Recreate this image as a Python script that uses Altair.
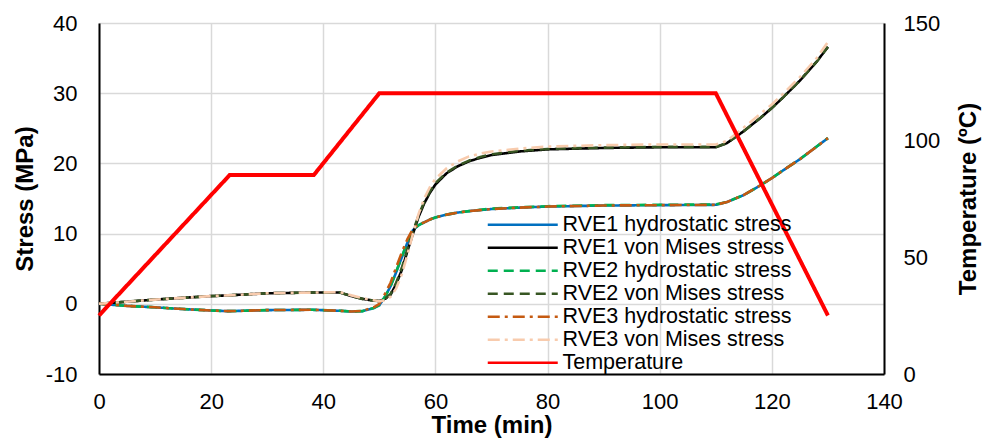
import altair as alt
import pandas as pd

# ---- data ----
time_min = [0, 5, 10, 15, 20, 23, 30, 38, 43, 45, 47, 49, 50, 51, 52, 53, 54, 55, 56, 57,
            58, 59, 60, 62, 64, 66, 68, 70, 75, 80, 90, 100, 110, 112, 115, 118, 120, 122,
            125, 128, 130]

rve1_hydro = [0, -0.3, -0.5, -0.75, -0.95, -1.05, -0.9, -0.85, -1.0, -1.1, -1.05, -0.6, -0.2,
              1.0, 2.5, 4.5, 6.6, 8.7, 10.5, 11.2, 11.6, 12.0, 12.3, 12.7, 13.0, 13.2, 13.35,
              13.5, 13.7, 13.85, 14.0, 14.05, 14.1, 14.5, 15.5, 16.9, 17.9, 19.0, 20.6, 22.4, 23.6]
rve2_hydro = [0, -0.3, -0.5, -0.75, -0.95, -1.05, -0.9, -0.85, -1.0, -1.1, -1.05, -0.6, -0.2,
              1.0, 2.5, 4.6, 6.7, 8.8, 10.5, 11.2, 11.6, 12.0, 12.3, 12.7, 13.0, 13.2, 13.4,
              13.55, 13.75, 13.9, 14.05, 14.1, 14.15, 14.5, 15.5, 16.9, 17.9, 19.0, 20.6, 22.4, 23.6]
rve3_hydro = [0, -0.3, -0.5, -0.75, -0.95, -1.05, -0.9, -0.85, -1.0, -1.1, -1.0, -0.5, 0.0,
              1.4, 3.0, 5.2, 7.3, 9.2, 10.7, 11.3, 11.6, 12.0, 12.3, 12.7, 13.0, 13.2, 13.35,
              13.5, 13.7, 13.85, 14.0, 14.05, 14.1, 14.5, 15.5, 16.9, 17.9, 19.0, 20.6, 22.4, 23.6]
rve1_vm = [0, 0.3, 0.6, 0.85, 1.1, 1.2, 1.5, 1.6, 1.6, 1.1, 0.7, 0.45, 0.4, 0.7, 1.3, 2.8, 4.8,
           7.5, 10.0, 12.4, 14.3, 15.8, 17.0, 18.6, 19.6, 20.3, 20.8, 21.2, 21.7, 22.0, 22.2,
           22.3, 22.3, 22.9, 24.6, 26.5, 27.9, 29.4, 31.8, 34.5, 36.6]
rve2_vm = [0, 0.3, 0.6, 0.85, 1.1, 1.2, 1.5, 1.6, 1.6, 1.1, 0.7, 0.45, 0.4, 0.7, 1.4, 3.0, 5.1,
           7.8, 10.3, 12.6, 14.5, 16.0, 17.2, 18.7, 19.7, 20.4, 20.9, 21.3, 21.8, 22.05, 22.25,
           22.35, 22.35, 22.9, 24.6, 26.5, 27.9, 29.4, 31.8, 34.5, 36.6]
rve3_vm = [0, 0.3, 0.6, 0.85, 1.1, 1.2, 1.5, 1.6, 1.65, 1.2, 0.8, 0.5, 0.35, 0.5, 1.0, 2.2, 4.2,
           7.0, 10.0, 12.8, 15.0, 16.6, 17.8, 19.3, 20.3, 21.0, 21.4, 21.7, 22.1, 22.4, 22.6,
           22.7, 22.7, 23.2, 25.1, 27.1, 28.4, 29.9, 32.3, 35.0, 37.3]

temp_time = [0, 23.3, 38.3, 50, 110, 130]
temp_vals = [25, 85, 85, 120, 120, 25]

series_names = ["RVE1 hydrostatic stress", "RVE1 von Mises stress",
                "RVE2 hydrostatic stress", "RVE2 von Mises stress",
                "RVE3 hydrostatic stress", "RVE3 von Mises stress", "Temperature"]
series_colors = ["#0070C0", "#000000", "#00B050", "#375623", "#C55A11", "#F8CBAD", "#FF0000"]
series_dash = [[1, 0], [1, 0], [10, 6], [10, 6], [12, 5, 3, 5], [12, 5, 3, 5], [1, 0]]

stress_lists = [rve1_hydro, rve1_vm, rve2_hydro, rve2_vm, rve3_hydro, rve3_vm]

rows = []
for k, (name, vals) in enumerate(zip(series_names[:6], stress_lists)):
    for t, v in zip(time_min, vals):
        rows.append({"series": name, "order": k, "time": t, "stress": v})
stress_df = pd.DataFrame(rows)
temp_df = pd.DataFrame({"series": "Temperature", "order": 6, "time": temp_time, "temp": temp_vals})

FONT = "Arial, Liberation Sans"

# legend symbol: a long horizontal stroke drawn by a small-sized custom path
color_enc = alt.Color(
    "series:N", scale=alt.Scale(domain=series_names, range=series_colors),
    legend=alt.Legend(
        title=None, orient="none", legendX=413, legendY=191,
        symbolType="M-7,0H7", symbolSize=100, symbolFillColor="transparent",
        symbolStrokeWidth=alt.ExprRef("datum.value === 'Temperature' ? 4 : 2.6"),
        labelFontSize=21.5, labelFont=FONT, labelColor="#000000",
        labelOffset=29, rowPadding=0, padding=0, labelLimit=400,
    ))
dash_enc = alt.StrokeDash("series:N", scale=alt.Scale(domain=series_names, range=series_dash),
                          legend=alt.Legend(title=None))

x_enc = alt.X("time:Q", scale=alt.Scale(domain=[0, 140], nice=False),
              axis=alt.Axis(title="Time (min)", values=list(range(0, 141, 20)),
                            grid=True, ticks=False, labelPadding=17, labelFlush=False,
                            titleX=392.5, titleY=51, titleBaseline="middle",
                            titleAlign="center"))

stress_layer = alt.Chart(stress_df).mark_line(strokeCap="butt", strokeJoin="round").encode(
    x=x_enc,
    y=alt.Y("stress:Q", scale=alt.Scale(domain=[-10, 40], nice=False),
            axis=alt.Axis(title="Stress (MPa)", values=list(range(-10, 41, 10)),
                          labelExpr="'' + datum.value",
                          grid=True, ticks=False, labelPadding=22,
                          titleX=-73.5, titleY=175.5, titleAngle=270,
                          titleBaseline="middle", titleAlign="center")),
    color=color_enc,
    strokeDash=dash_enc,
    order=alt.Order("time:Q"),
    detail="order:O",
)

temp_layer = alt.Chart(temp_df).mark_line(
    strokeCap="butt", strokeJoin="miter", strokeWidth=4).encode(
    x=alt.X("time:Q"),
    y=alt.Y("temp:Q", scale=alt.Scale(domain=[0, 150], nice=False),
            axis=alt.Axis(title="Temperature (ºC)", orient="right", values=[0, 50, 100, 150],
                          grid=False, ticks=False, labelPadding=19,
                          titleX=84, titleY=175.5, titleAngle=270,
                          titleBaseline="middle", titleAlign="center")),
    color=alt.Color("series:N"),
    strokeDash=alt.StrokeDash("series:N"),
)

chart = alt.layer(stress_layer, temp_layer).resolve_scale(y="independent").properties(
    width=785, height=351,
    autosize=alt.AutoSizeParams(type="none"),
    padding={"left": 99, "top": 23, "right": 109, "bottom": 67},
    background="white",
).configure_view(stroke=None).configure_line(strokeWidth=2.6).configure_axis(
    labelFont=FONT, labelFontSize=22, labelColor="#000000",
    titleFont=FONT, titleFontSize=24, titleFontWeight="bold", titleColor="#000000",
    domainColor="#000000", domainWidth=2,
    gridColor="#D9D9D9", gridWidth=1.5,
)

chart.save("out.html", embed_options={"renderer": "svg", "actions": False})
